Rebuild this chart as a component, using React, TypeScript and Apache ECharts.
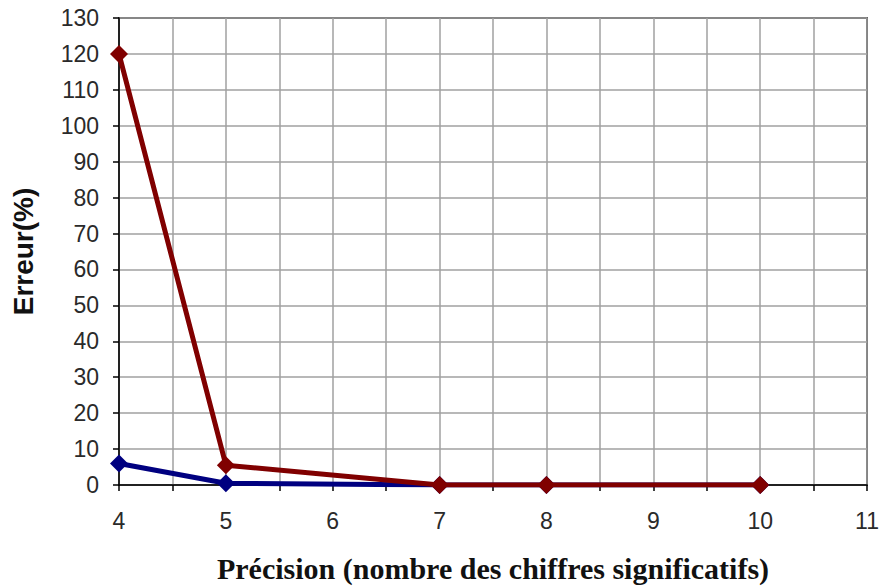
import React, { useEffect, useRef } from "react";
import * as echarts from "echarts";

const precision = [4, 5, 7, 8, 10];
const erreurRouge = [120, 5.5, 0, 0, 0];
const erreurBleu = [6, 0.5, 0, 0, 0];

export default function App() {
  const ref = useRef<HTMLDivElement>(null);
  useEffect(() => {
    const chart = echarts.init(ref.current!, null, { renderer: "svg" });
    const tickFont = { fontFamily: "Liberation Sans, Arial, sans-serif", fontSize: 23, color: "#2a2a2a" };
    chart.setOption({
      animation: false,
      backgroundColor: "#fff",
      grid: { left: 119, top: 18, width: 753, height: 468, show: true, borderColor: "#000", borderWidth: 1.5, backgroundColor: "transparent" },
      xAxis: {
        type: "value",
        min: 4,
        max: 11,
        interval: 0.5,
        name: "Précision (nombre des chiffres significatifs)",
        nameLocation: "middle",
        nameGap: 68,
        nameTextStyle: { fontFamily: "Liberation Serif, Times New Roman, serif", fontWeight: "bold", fontSize: 30, color: "#111" },
        axisLine: { lineStyle: { color: "#000", width: 1.5 } },
        axisTick: { show: true, length: 6, inside: false, lineStyle: { color: "#000", width: 1.5 } },
        axisLabel: { ...tickFont, margin: 24, formatter: (v: number) => (Number.isInteger(v) ? String(v) : "") },
        splitLine: { show: true, lineStyle: { color: "#a0a0a0", width: 1.5 } },
      },
      yAxis: {
        type: "value",
        min: 0,
        max: 130,
        interval: 10,
        name: "Erreur(%)",
        nameLocation: "middle",
        nameGap: 82,
        nameRotate: 90,
        nameTextStyle: { fontFamily: "Liberation Sans, Arial, sans-serif", fontWeight: "bold", fontSize: 28, color: "#111" },
        axisLine: { show: true, lineStyle: { color: "#000", width: 1.5 } },
        axisTick: { show: true, length: 6, inside: false, lineStyle: { color: "#000", width: 1.5 } },
        axisLabel: { ...tickFont, margin: 20 },
        splitLine: { show: true, lineStyle: { color: "#a0a0a0", width: 1.5 } },
      },
      series: [
        {
          type: "line",
          data: precision.map((x, i) => [x, erreurBleu[i]]),
          symbol: "diamond",
          symbolSize: 18,
          lineStyle: { color: "#000080", width: 5 },
          itemStyle: { color: "#000080" },
          z: 2,
        },
        {
          type: "line",
          data: precision.map((x, i) => [x, erreurRouge[i]]),
          symbol: "diamond",
          symbolSize: 18,
          lineStyle: { color: "#800000", width: 5 },
          itemStyle: { color: "#800000" },
          z: 3,
        },
      ],
    });
    return () => chart.dispose();
  }, []);
  return <div ref={ref} style={{ position: "fixed", left: 0, top: 0, width: 882, height: 588 }} />;
}
